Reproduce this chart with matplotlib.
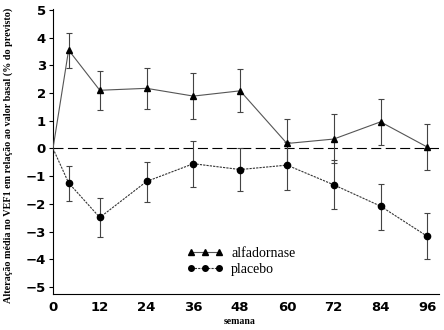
import matplotlib
matplotlib.use("Agg")
import matplotlib.pyplot as plt
import numpy as np

# semanas
weeks = [0, 4, 12, 24, 36, 48, 60, 72, 84, 96]

# alfadornase: media, limite superior, limite inferior
alfa_mean = [0, 3.55, 2.10, 2.17, 1.89, 2.08, 0.18, 0.34, 0.96, 0.05]
alfa_hi = [0, 4.15, 2.80, 2.91, 2.73, 2.85, 1.06, 1.23, 1.79, 0.87]
alfa_lo = [0, 2.91, 1.39, 1.44, 1.08, 1.30, -0.65, -0.52, 0.14, -0.76]

# placebo
plac_mean = [0, -1.24, -2.49, -1.19, -0.55, -0.76, -0.60, -1.31, -2.08, -3.17]
plac_hi = [0, -0.63, -1.78, -0.48, 0.27, 0.02, 0.25, -0.43, -1.28, -2.33]
plac_lo = [0, -1.88, -3.21, -1.94, -1.39, -1.52, -1.48, -2.19, -2.94, -4.00]

xticks = [0, 12, 24, 36, 48, 60, 72, 84, 96]
yticks = [-5, -4, -3, -2, -1, 0, 1, 2, 3, 4, 5]

fig = plt.figure(figsize=(4.44, 3.30), dpi=100)
ax = fig.add_axes([53/444, 1 - 294/330, 386/444, 285.5/330])


def err(mean, hi, lo):
    m = np.array(mean)
    return np.vstack([m - np.array(lo), np.array(hi) - m])


ax.axhline(0, color="black", lw=0.8, linestyle=(0, (9, 4)), zorder=1)

ax.errorbar(weeks[1:], alfa_mean[1:], yerr=err(alfa_mean, alfa_hi, alfa_lo)[:, 1:],
            fmt="none", ecolor="#444444", elinewidth=0.8, capsize=2.5, capthick=0.8, zorder=2)
ax.errorbar(weeks[1:], plac_mean[1:], yerr=err(plac_mean, plac_hi, plac_lo)[:, 1:],
            fmt="none", ecolor="#444444", elinewidth=0.8, capsize=2.5, capthick=0.8, zorder=2)

ax.plot(weeks, alfa_mean, color="#555555", lw=0.8, zorder=3)
ax.plot(weeks[1:], alfa_mean[1:], linestyle="none", marker="^", color="black", ms=5, zorder=4)
ax.plot(weeks, plac_mean, color="#333333", lw=0.8, linestyle=(0, (2, 1)), zorder=3)
ax.plot(weeks[1:], plac_mean[1:], linestyle="none", marker="o", color="black", ms=4.5, zorder=4)

# legenda
h1, = ax.plot([], [], color="#555555", lw=0.8, marker="^", ms=4.5,
              markerfacecolor="black", markeredgecolor="black")
h2, = ax.plot([], [], color="#333333", lw=0.8, linestyle=(0, (2, 1)), marker="o", ms=4,
              markerfacecolor="black", markeredgecolor="black")
ax.legend([h1, h2], ["alfadornase", "placebo"], loc="center left",
          bbox_to_anchor=((186.7 - 53) / 386, (294 - 261.3) / 285.5),
          frameon=False, numpoints=3, handlelength=2.6, handletextpad=0.6,
          borderpad=0, borderaxespad=0, labelspacing=0.25,
          prop={"family": "Liberation Serif", "size": 10})

ax.set_xlim(0, 99)
ax.set_ylim(-5.25, 5.05)
ax.set_xticks(xticks)
ax.set_yticks(yticks)
ax.set_yticklabels([str(v).replace("-", "\u2212") for v in yticks])
for lab in ax.get_xticklabels() + ax.get_yticklabels():
    lab.set_fontweight("heavy")
    lab.set_fontsize(9.5)
ax.tick_params(axis="y", direction="out", length=3, width=0.8, pad=2)
ax.tick_params(axis="x", direction="out", length=0, pad=5)
ax.spines["top"].set_visible(False)
ax.spines["right"].set_visible(False)
ax.spines["left"].set_linewidth(0.8)
ax.spines["bottom"].set_linewidth(0.8)

fig.text(8/444, 1 - 155/330, "Alteração média no VEF1 em relação ao valor basal (% do previsto)",
         rotation=90, ha="center", va="center", family="Liberation Serif",
         fontweight="bold", fontsize=7.3)
fig.text(240/444, 1 - 322/330, "semana", ha="center", va="center",
         family="Liberation Serif", fontweight="bold", fontsize=7)

fig.savefig("out.png", dpi=100)
